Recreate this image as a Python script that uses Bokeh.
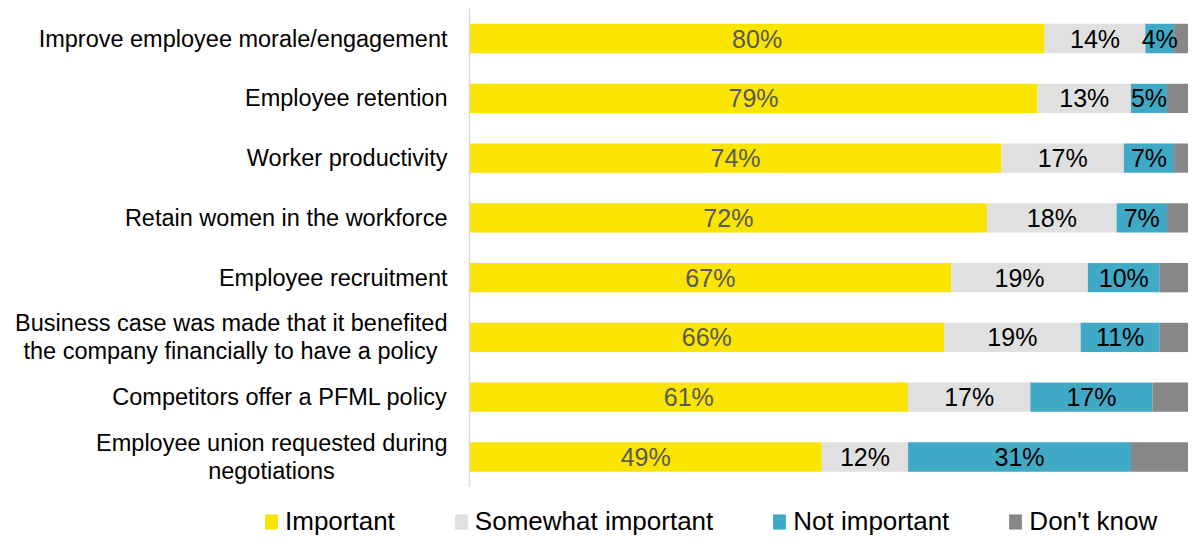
from bokeh.plotting import figure
from bokeh.models import ColumnDataSource, Legend, LegendItem, Range1d
from bokeh.core.properties import value
from bokeh.embed import file_html
from bokeh.resources import INLINE

# ---------------- data ----------------
categories = [
    "Improve employee morale/engagement",
    "Employee retention",
    "Worker productivity",
    "Retain women in the workforce",
    "Employee recruitment",
    "Business case was made that it benefited\nthe company financially to have a policy",
    "Competitors offer a PFML policy",
    "Employee union requested during\nnegotiations",
]
important = [80, 79, 74, 72, 67, 66, 61, 49]
somewhat_important = [14, 13, 17, 18, 19, 19, 17, 12]
not_important = [4, 5, 7, 7, 10, 11, 17, 31]
dont_know = [2, 3, 2, 3, 4, 4, 5, 8]

series_names = ["Important", "Somewhat important", "Not important", "Don't know"]
series_keys = ["important", "somewhat", "not_imp", "dont_know"]
colors = ["#F9E500", "#E0E0E0", "#3FA9C6", "#878787"]
label_colors = ["#595959", "#000000", "#000000", None]

# ---------------- layout ----------------
W, H = 1188, 538
AXIS_PX = 469            # screen x of the 0 line
TOP_ROW_PX = 38          # center of first row from top
BOTTOM_ROW_PX = 456.5    # center of last row from top
FONT = "Liberation Sans"

n = len(categories)
ys = [n - 1 - i for i in range(n)]
row_px = (BOTTOM_ROW_PX - TOP_ROW_PX) / (n - 1)
x_start = -AXIS_PX / (W - AXIS_PX) * 100
y_end = (n - 1) + TOP_ROW_PX / row_px
y_start = -(H - BOTTOM_ROW_PX) / row_px

source = ColumnDataSource(dict(
    y=ys,
    important=important,
    somewhat=somewhat_important,
    not_imp=not_important,
    dont_know=dont_know,
))

p = figure(width=W, height=H, output_backend="svg", toolbar_location=None,
           x_range=Range1d(x_start, 100), y_range=Range1d(y_start, y_end),
           x_axis_type=None, y_axis_type=None, min_border=0)
p.outline_line_color = None
p.grid.visible = False
p.background_fill_color = "white"
p.border_fill_color = "white"

renderers = p.hbar_stack(series_keys, y="y", height=0.49, color=colors,
                         line_color=None, source=source)

# vertical axis line
p.segment(x0=[0], y0=[-0.5], x1=[0], y1=[n - 0.5], line_color="#D9D9D9", line_width=1.5)

# value labels
all_vals = [important, somewhat_important, not_important, dont_know]
for s, vals in enumerate(all_vals):
    if label_colors[s] is None:
        continue
    xs, yy, tt = [], [], []
    for i, v in enumerate(vals):
        left = sum(all_vals[k][i] for k in range(s))
        xs.append(left + v / 2)
        yy.append(ys[i])
        tt.append(f"{v}%")
    p.text(x=xs, y=yy, text=tt, text_align="center", text_baseline="middle",
           text_font=value(FONT), text_font_size="25px", text_color=label_colors[s])

# category labels
first_line_width = {5: 434, 7: 352}
rx, ry, rt, roff = [], [], [], []
cx, cy, ct, cxo, cyo = [], [], [], [], []
for i, cat in enumerate(categories):
    lines = cat.split("\n")
    if len(lines) == 1:
        rx.append(0); ry.append(ys[i]); rt.append(cat); roff.append(0)
    else:
        rx.append(0); ry.append(ys[i]); rt.append(lines[0]); roff.append(-14)
        cx.append(0); cy.append(ys[i]); ct.append(lines[1])
        cxo.append(-22 - first_line_width[i] / 2); cyo.append(14)
p.text(x=rx, y=ry, text=rt, y_offset=roff, x_offset=-22, text_align="right",
       text_baseline="middle", text_font=value(FONT), text_font_size="23.5px",
       text_color="#000000")
p.text(x=cx, y=cy, text=ct, x_offset=cxo, y_offset=cyo, text_align="center",
       text_baseline="middle", text_font=value(FONT), text_font_size="23.5px",
       text_color="#000000")

legend = Legend(items=[LegendItem(label=name, renderers=[r])
                       for name, r in zip(series_names, renderers)],
                orientation="horizontal", location=(263, 1))
legend.background_fill_alpha = 0
legend.border_line_color = None
legend.padding = 0
legend.margin = 0
legend.spacing = 58
legend.label_standoff = 6
legend.glyph_width = 16
legend.glyph_height = 19
legend.label_text_font = FONT
legend.label_text_font_size = "26px"
legend.label_text_color = "#000000"
p.add_layout(legend)

open("out.html", "w").write(file_html(p, INLINE))
